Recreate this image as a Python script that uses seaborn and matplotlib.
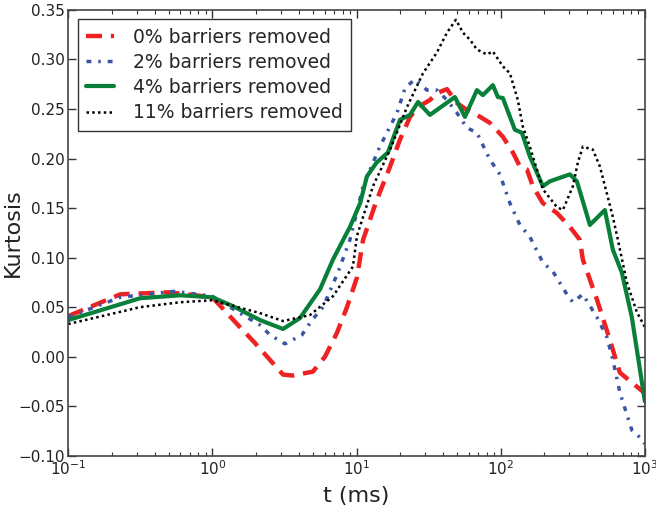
import pandas as pd
import matplotlib
matplotlib.use("Agg")
import matplotlib.pyplot as plt
import seaborn as sns

# values (t in ms, kurtosis)
t_0 = [0.1, 0.23, 0.5, 1.0, 1.55, 1.97, 3.09, 3.6, 4.98, 6.04, 7.31, 8.58, 10.07, 11.1,
       13.8, 17.1, 20.0, 23.5, 26.7, 32.3, 36.1, 42.4, 49.7, 58.3, 68.4, 84.1, 103.5,
       121.6, 135.8, 152.0, 167.2, 196.2, 245.5, 302.0, 354.0, 371.5, 464.5, 571.6,
       670.9, 812.0, 967.0, 1000.0]
k_0 = [0.041, 0.063, 0.065, 0.060, 0.030, 0.014, -0.018, -0.019, -0.015, 0.0, 0.024, 0.050,
       0.080, 0.118, 0.158, 0.192, 0.219, 0.242, 0.252, 0.259, 0.266, 0.270, 0.256, 0.249,
       0.244, 0.236, 0.222, 0.206, 0.192, 0.189, 0.172, 0.155, 0.145, 0.131, 0.118, 0.098,
       0.058, 0.017, -0.016, -0.026, -0.035, -0.038]

t_2 = [0.1, 0.23, 0.55, 1.0, 1.55, 2.14, 2.51, 3.19, 4.18, 4.91, 5.85, 7.43, 9.0, 10.2,
       11.1, 14.5, 19.1, 21.7, 25.4, 30.8, 36.1, 42.4, 49.7, 58.3, 68.4, 84.1, 98.7,
       115.8, 135.8, 159.3, 196.2, 230.2, 287.8, 316.8, 371.5, 464.5, 544.6, 599.8,
       670.9, 812.0, 967.0, 1000.0]
k_2 = [0.040, 0.060, 0.066, 0.061, 0.044, 0.032, 0.022, 0.013, 0.022, 0.037, 0.050, 0.085,
       0.118, 0.150, 0.172, 0.212, 0.246, 0.271, 0.280, 0.269, 0.269, 0.259, 0.246, 0.231,
       0.226, 0.199, 0.184, 0.155, 0.133, 0.121, 0.095, 0.086, 0.063, 0.055, 0.063, 0.040,
       0.020, -0.003, -0.036, -0.074, -0.084, -0.088]

t_4 = [0.1, 0.315, 0.6, 1.0, 1.39, 2.14, 3.09, 4.05, 5.58, 6.86, 9.0, 10.6, 11.8, 13.8,
       16.5, 20.0, 23.5, 26.7, 32.3, 48.1, 56.5, 68.4, 75.2, 88.3, 95.6, 103.5, 125.4,
       140.3, 159.3, 196.2, 219.4, 302.0, 337.8, 415.6, 528.0, 599.8, 692.0, 812.0, 1000.0]
k_4 = [0.037, 0.059, 0.062, 0.060, 0.051, 0.037, 0.028, 0.039, 0.068, 0.098, 0.131, 0.155,
       0.182, 0.196, 0.206, 0.239, 0.244, 0.257, 0.244, 0.262, 0.242, 0.269, 0.264, 0.274,
       0.262, 0.261, 0.229, 0.226, 0.202, 0.172, 0.177, 0.184, 0.177, 0.133, 0.148, 0.108,
       0.085, 0.040, -0.045]

t_11 = [0.1, 0.315, 0.6, 1.0, 2.14, 3.09, 4.75, 6.86, 9.44, 10.07, 13.0, 17.1, 22.4, 28.9,
        36.1, 42.4, 48.9, 54.7, 61.1, 68.4, 80.2, 88.3, 103.5, 115.8, 131.5, 142.5, 159.3,
        178.2, 196.2, 245.5, 270.0, 316.8, 343.0, 371.5, 435.6, 487.5, 544.6, 600.0,
        650.0, 750.0, 880.0, 1000.0]
k_11 = [0.033, 0.050, 0.055, 0.057, 0.044, 0.036, 0.042, 0.061, 0.091, 0.122, 0.172, 0.209,
        0.252, 0.286, 0.307, 0.327, 0.340, 0.327, 0.320, 0.310, 0.305, 0.308, 0.293, 0.286,
        0.259, 0.232, 0.212, 0.189, 0.169, 0.151, 0.148, 0.172, 0.196, 0.212, 0.209, 0.192,
        0.165, 0.141, 0.118, 0.075, 0.045, 0.030]

labels = ["0% barriers removed", "2% barriers removed",
          "4% barriers removed", "11% barriers removed"]
yticks = [-0.10, -0.05, 0.0, 0.05, 0.10, 0.15, 0.20, 0.25, 0.30, 0.35]

sns.set_style("ticks")
plt.rcParams['font.family'] = ['DejaVu Sans']
plt.rcParams['xtick.direction'] = 'in'
plt.rcParams['ytick.direction'] = 'in'
plt.rcParams['xtick.top'] = True
plt.rcParams['ytick.right'] = True

fig = plt.figure(figsize=(6.56, 5.18), dpi=100)
ax = fig.add_axes([0.104, 0.12, 0.879, 0.861])

sns.lineplot(x=t_0, y=k_0, ax=ax, color='#ee2222', linestyle=(0, (3.6, 2.0)), linewidth=3.2,
             label=labels[0], sort=False)
sns.lineplot(x=t_2, y=k_2, ax=ax, color='#3b55a5', linestyle=(0, (1.4, 2.0, 0.7, 2.0)),
             linewidth=2.5, label=labels[1], sort=False)
sns.lineplot(x=t_4, y=k_4, ax=ax, color='#08803a', linestyle='-', linewidth=3.0,
             label=labels[2], sort=False)
sns.lineplot(x=t_11, y=k_11, ax=ax, color='black', linestyle=(0, (1.0, 1.3)), linewidth=1.8,
             label=labels[3], sort=False)

ax.set_xscale('log')
ax.set_xlim(0.1, 1000)
ax.set_ylim(-0.10, 0.35)
ax.set_yticks(yticks)
ax.set_yticklabels(['%.2f' % v if v >= 0 else '\u2212%.2f' % -v for v in yticks])
ax.tick_params(axis='both', which='major', labelsize=11, length=6, width=1, pad=2.5,
               colors='#333333', labelcolor='#222222')
ax.tick_params(axis='both', which='minor', length=3, width=0.8, colors='#333333')
for s in ax.spines.values():
    s.set_color('#444444')
    s.set_linewidth(1.2)

ax.set_xlabel("t (ms)", fontsize=16, color='#222222', labelpad=6)
ax.set_ylabel("Kurtosis", fontsize=16, color='#222222')
ax.yaxis.set_label_coords(-0.078, 0.5)

leg = ax.legend(loc='upper left', fontsize=13.5, frameon=True, fancybox=False,
                edgecolor='black', handlelength=1.5, borderpad=0.45, labelspacing=0.33,
                handletextpad=1.0, borderaxespad=0.5)
leg.get_frame().set_linewidth(1.0)

plt.savefig("out.png", dpi=100)
